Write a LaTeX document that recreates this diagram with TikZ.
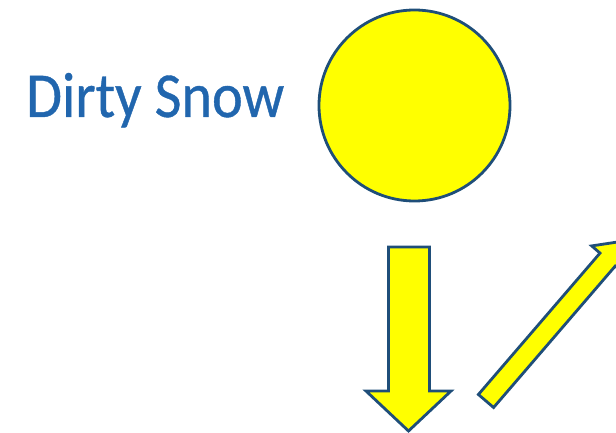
\documentclass[tikz,border=0pt]{standalone}
\usepackage{fontspec}
\setmainfont{Carlito}
\newfontfamily\titlefont[FakeStretch=0.91, FakeBold=0.6]{Carlito}
\usepackage{xcolor}
\definecolor{outline}{HTML}{1F4E79}
\definecolor{titleblue}{HTML}{2166AE}
\definecolor{sunyellow}{HTML}{FFFF00}
\tikzset{
  line cap=round,
  line join=miter,
  shapeline/.style={draw=outline, line width=2.8pt, fill=sunyellow},
  titletext/.style={inner sep=0pt, anchor=base west, text=titleblue, font=\titlefont\fontsize{64}{64}\selectfont}
}
\begin{document}
\begin{tikzpicture}[x=1pt, y=-1pt]
  \useasboundingbox (0,0) rectangle (616,433);
  \clip (0,0) rectangle (616,433);

  \node[titletext] (title) at (26,117) {Dirty Snow};
  \node[shapeline, circle, minimum size=191pt, inner sep=0pt] (sun) at (414.5,105.5) {};

  % arrow down
  \coordinate (A) at (388.5,247);
  \coordinate (B) at (429.5,247);
  \coordinate (C) at (429.5,391);
  \coordinate (D) at (451,391);
  \coordinate (E) at (408.5,431);
  \coordinate (F) at (366,391);
  \coordinate (G) at (388.5,391);
  \draw[shapeline] (A)--(B)--(C)--(D)--(E)--(F)--(G)--cycle;

  % arrow up right
  \coordinate (P) at (493.6,407.5);
  \coordinate (Q) at (478.4,394.5);
  \coordinate (R) at (600,253.1);
  \coordinate (S) at (591.7,245.9);
  \coordinate (T) at (623.6,241.1);
  \coordinate (U) at (623.5,273.3);
  \coordinate (V) at (615.2,266.1);
  \draw[shapeline] (P)--(Q)--(R)--(S)--(T)--(U)--(V)--cycle;
\end{tikzpicture}
\end{document}
